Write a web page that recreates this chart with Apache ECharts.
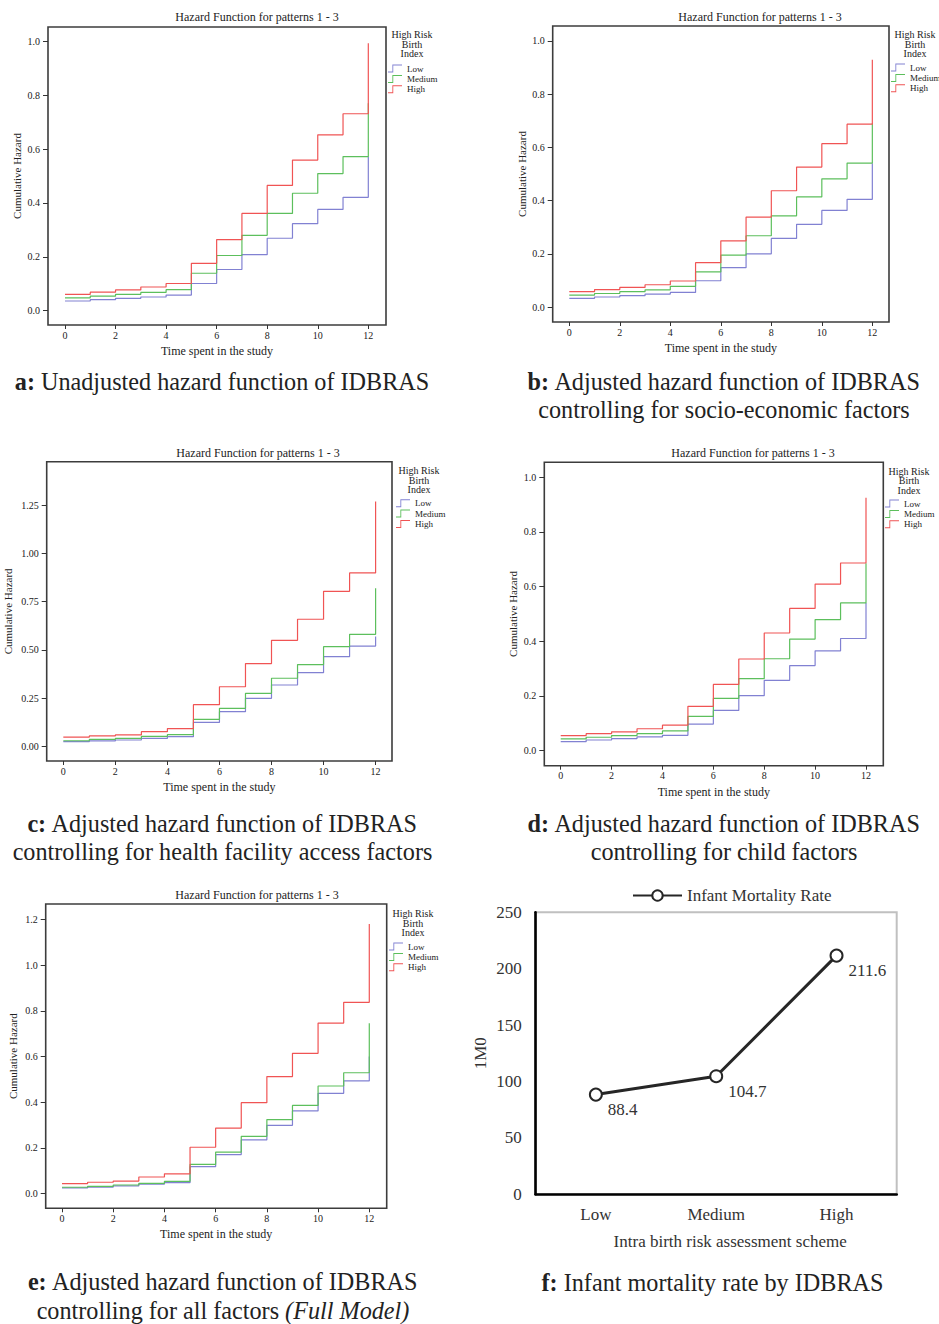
<!DOCTYPE html>
<html lang="en">
<head>
<meta charset="UTF-8">
<title>IDBRAS hazard functions</title>
<script src="https://cdn.jsdelivr.net/npm/echarts@6/dist/echarts.min.js"></script>
<style>
  html, body { margin: 0; padding: 0; background: #fff; }
  #main { width: 939px; height: 1324px; }
</style>
</head>
<body>
<div id="main"></div>
<script>
// time spent in the study and axis ticks
var times = [0, 1, 2, 3, 4, 5, 6, 7, 8, 9, 10, 11, 12];
var xTicks = [0, 2, 4, 6, 8, 10, 12];
var yTicks1 = [0, 0.2, 0.4, 0.6, 0.8, 1.0];
var yTicksC = [0, 0.25, 0.5, 0.75, 1.0, 1.25];
var yTicksE = [0, 0.2, 0.4, 0.6, 0.8, 1.0, 1.2];
var riskGroups = ['Low', 'Medium', 'High'];

// cumulative hazard, last value = top of the final jump at t=12
// a: unadjusted
var aLow  = [0.036, 0.041, 0.046, 0.051, 0.058, 0.101, 0.153, 0.208, 0.269, 0.323, 0.376, 0.421, 0.572];
var aMed  = [0.048, 0.054, 0.061, 0.068, 0.078, 0.139, 0.205, 0.280, 0.361, 0.436, 0.509, 0.572, 0.770];
var aHigh = [0.061, 0.069, 0.077, 0.088, 0.101, 0.176, 0.264, 0.361, 0.465, 0.559, 0.653, 0.731, 0.993];
// b: socio-economic
var bLow  = [0.033, 0.038, 0.043, 0.049, 0.055, 0.099, 0.148, 0.200, 0.258, 0.311, 0.363, 0.405, 0.540];
var bMed  = [0.045, 0.051, 0.058, 0.065, 0.078, 0.132, 0.195, 0.268, 0.343, 0.414, 0.482, 0.541, 0.690];
var bHigh = [0.058, 0.066, 0.074, 0.084, 0.098, 0.167, 0.249, 0.338, 0.437, 0.526, 0.614, 0.687, 0.929];
// c: health facility access
var cLow  = [0.024, 0.028, 0.033, 0.041, 0.050, 0.124, 0.180, 0.249, 0.318, 0.382, 0.465, 0.520, 0.570];
var cMed  = [0.029, 0.036, 0.041, 0.052, 0.061, 0.140, 0.197, 0.275, 0.353, 0.424, 0.517, 0.581, 0.820];
var cHigh = [0.048, 0.054, 0.059, 0.076, 0.092, 0.216, 0.309, 0.429, 0.550, 0.659, 0.804, 0.899, 1.269];
// d: child factors
var dLow  = [0.033, 0.039, 0.044, 0.050, 0.056, 0.097, 0.147, 0.201, 0.257, 0.311, 0.365, 0.410, 0.540];
var dMed  = [0.043, 0.049, 0.055, 0.062, 0.072, 0.125, 0.191, 0.263, 0.336, 0.408, 0.479, 0.540, 0.685];
var dHigh = [0.055, 0.062, 0.069, 0.080, 0.093, 0.162, 0.242, 0.335, 0.430, 0.520, 0.609, 0.686, 0.924];
// e: full model
var eLow  = [0.025, 0.029, 0.034, 0.042, 0.048, 0.118, 0.171, 0.235, 0.299, 0.362, 0.439, 0.493, 0.600];
var eMed  = [0.028, 0.032, 0.038, 0.045, 0.054, 0.128, 0.182, 0.251, 0.324, 0.386, 0.471, 0.529, 0.745];
var eHigh = [0.044, 0.050, 0.055, 0.073, 0.087, 0.203, 0.287, 0.398, 0.512, 0.614, 0.746, 0.837, 1.179];

// f: infant mortality rate
var imrCategories = ['Low', 'Medium', 'High'];
var imrValues = [88.4, 104.7, 211.6];
var imrTicks = [0, 50, 100, 150, 200, 250];

var serif = 'Liberation Serif, Times New Roman, serif';
var lineColors = ['#8181d2', '#5cbf5c', '#f05454'];
var stepIcon = 'path://M0,14L10,14L10,0L32,0L32,2L12,2L12,16L0,16Z';

var panels = [
  {grid: {left: 48, top: 27, width: 338, height: 298}, x: [-0.672, 12.70], y: [-0.053, 1.053],
   ticks: yTicks1, dec: 1, yGap: 26, title: [257, 17], legTitle: [412, 44], leg: [388, 64], data: [aLow, aMed, aHigh]},
  {grid: {left: 552.7, top: 26, width: 336.3, height: 296}, x: [-0.657, 12.66], y: [-0.056, 1.056],
   ticks: yTicks1, dec: 1, yGap: 25, title: [760, 17], legTitle: [915, 44], leg: [891, 63], data: [bLow, bMed, bHigh]},
  {grid: {left: 46.7, top: 461.7, width: 345.3, height: 299.3}, x: [-0.638, 12.63], y: [-0.076, 1.476],
   ticks: yTicksC, dec: 2, yGap: 33, title: [258, 452.7], legTitle: [419, 480], leg: [396, 498.7], data: [cLow, cMed, cHigh]},
  {grid: {left: 544.3, top: 462.3, width: 339, height: 303.4}, x: [-0.645, 12.68], y: [-0.055, 1.054],
   ticks: yTicks1, dec: 1, yGap: 26, title: [753, 452.7], legTitle: [909, 480.7], leg: [885, 499], data: [dLow, dMed, dHigh]},
  {grid: {left: 45.7, top: 904, width: 341, height: 304.3}, x: [-0.637, 12.68], y: [-0.064, 1.267],
   ticks: yTicksE, dec: 1, yGap: 27, title: [257, 894.7], legTitle: [413, 923], leg: [389, 942], data: [eLow, eMed, eHigh]}
];

var grids = [], xAxes = [], yAxes = [], series = [], legends = [], graphics = [], titles = [];

function txt(x, y, text, size, extra) {
  var st = {text: text, fontSize: size, fontFamily: serif, fill: '#222', align: 'center', verticalAlign: 'middle'};
  for (var k in extra) st[k] = extra[k];
  return {type: 'text', x: x, y: y, silent: true, style: st};
}

panels.forEach(function (p, i) {
  grids.push({left: p.grid.left, top: p.grid.top, width: p.grid.width, height: p.grid.height,
    show: true, borderColor: '#3c3c3c', borderWidth: 1.6, backgroundColor: 'transparent'});
  xAxes.push({
    gridIndex: i, type: 'value', min: p.x[0], max: p.x[1],
    axisLine: {show: false, onZero: false},
    axisTick: {show: true, length: 4, customValues: xTicks, lineStyle: {color: '#333'}},
    axisLabel: {customValues: xTicks, fontSize: 10, margin: 5, color: '#222', fontFamily: serif},
    splitLine: {show: false},
    name: 'Time spent in the study', nameLocation: 'middle', nameGap: 20,
    nameTextStyle: {fontSize: 12, color: '#222', fontFamily: serif}
  });
  yAxes.push({
    gridIndex: i, type: 'value', min: p.y[0], max: p.y[1],
    axisLine: {show: false, onZero: false},
    axisTick: {show: true, length: 5, customValues: p.ticks, lineStyle: {color: '#333'}},
    axisLabel: {customValues: p.ticks, fontSize: 10, margin: 8, color: '#222', fontFamily: serif,
      formatter: function (v) { return v.toFixed(p.dec); }},
    splitLine: {show: false},
    name: 'Cumulative Hazard', nameLocation: 'middle', nameGap: p.yGap,
    nameTextStyle: {fontSize: 11, color: '#222', fontFamily: serif}
  });
  p.data.forEach(function (vals, k) {
    series.push({
      type: 'line', name: riskGroups[k], xAxisIndex: i, yAxisIndex: i, step: 'end',
      symbol: 'none', silent: true, animation: false,
      lineStyle: {width: 1.2, color: lineColors[k]},
      itemStyle: {color: lineColors[k]},
      data: times.map(function (t, j) { return [t, vals[j]]; })
    });
  });
  legends.push({
    data: riskGroups, orient: 'vertical', left: p.leg[0], top: p.leg[1], padding: 0,
    itemWidth: 14, itemHeight: 8, itemGap: 1.4, icon: stepIcon, symbolKeepAspect: false,
    selectedMode: false, textStyle: {fontSize: 9, color: '#222', fontFamily: serif}
  });
  graphics.push(txt(p.title[0], p.title[1], 'Hazard Function for patterns 1 - 3', 12));
  graphics.push(txt(p.legTitle[0], p.legTitle[1], 'High Risk\nBirth\nIndex', 10, {lineHeight: 9.6}));
});

// panel f
grids.push({left: 535.7, top: 912.3, width: 361, height: 282, show: true,
  borderColor: '#c0c0c0', borderWidth: 2, backgroundColor: 'transparent'});
xAxes.push({
  gridIndex: 5, type: 'category', data: imrCategories,
  axisLine: {show: true, lineStyle: {color: '#000', width: 2.6}},
  axisTick: {show: false},
  axisLabel: {fontSize: 17, margin: 12, color: '#333', fontFamily: serif},
  name: 'Intra birth risk assessment scheme', nameLocation: 'middle', nameGap: 39,
  nameTextStyle: {fontSize: 17, color: '#333', fontFamily: serif, padding: [0, 0, 0, 28]}
});
yAxes.push({
  gridIndex: 5, type: 'value', min: 0, max: 250, interval: 50,
  axisLine: {show: true, lineStyle: {color: '#000', width: 2.6}},
  axisTick: {show: false},
  axisLabel: {customValues: imrTicks, fontSize: 17, margin: 14, color: '#333', fontFamily: serif},
  splitLine: {show: false},
  name: '1M0', nameLocation: 'middle', nameGap: 47,
  nameTextStyle: {fontSize: 17, color: '#333', fontFamily: serif}
});
series.push({
  type: 'line', name: 'Infant Mortality Rate', xAxisIndex: 5, yAxisIndex: 5,
  data: imrValues, symbol: 'emptyCircle', symbolSize: 12, animation: false,
  lineStyle: {width: 3, color: '#262626'},
  itemStyle: {color: '#262626', borderColor: '#262626', borderWidth: 3.5},
  label: {show: true, position: 'right', offset: [0, 15], fontSize: 17, color: '#333', fontFamily: serif}
});
legends.push({
  data: ['Infant Mortality Rate'], left: 632, top: 887, padding: 0,
  itemWidth: 49, itemHeight: 13, selectedMode: false,
  textStyle: {fontSize: 17, color: '#333', fontFamily: serif}
});

// captions (title components, rich text for the bold letter)
var capSize = 24.2, capLine = 28.5;
var capStyle = {
  rich: {
    b: {fontWeight: 'bold', fontSize: capSize, fontFamily: serif, color: '#222', lineHeight: capLine},
    n: {fontWeight: 'normal', fontSize: capSize, fontFamily: serif, color: '#222', lineHeight: capLine},
    i: {fontStyle: 'italic', fontWeight: 'normal', fontSize: capSize, fontFamily: serif, color: '#222', lineHeight: capLine}
  }
};
function cap(x, yFirst, text) {
  titles.push({text: text, left: x, top: yFirst - capLine / 2, textAlign: 'center', padding: 0,
    itemGap: 0, textStyle: capStyle});
}
cap(222, 381, '{b|a:}{n| Unadjusted hazard function of IDBRAS}');
cap(724, 381, '{b|b:}{n| Adjusted hazard function of IDBRAS}\n{n|controlling for socio-economic factors}');
cap(222.5, 823, '{b|c:}{n| Adjusted hazard function of IDBRAS}\n{n|controlling for health facility access factors}');
cap(724, 823, '{b|d:}{n| Adjusted hazard function of IDBRAS}\n{n|controlling for child factors}');
cap(223, 1281.5, '{b|e:}{n| Adjusted hazard function of IDBRAS}\n{n|controlling for all factors }{i|(Full Model)}');
cap(712.5, 1282, '{b|f:}{n| Infant mortality rate by IDBRAS}');

var chart = echarts.init(document.getElementById('main'), null, {renderer: 'svg'});
chart.setOption({
  backgroundColor: '#fff',
  animation: false,
  title: titles,
  grid: grids,
  xAxis: xAxes,
  yAxis: yAxes,
  legend: legends,
  series: series,
  graphic: graphics
});
</script>
</body>
</html>
